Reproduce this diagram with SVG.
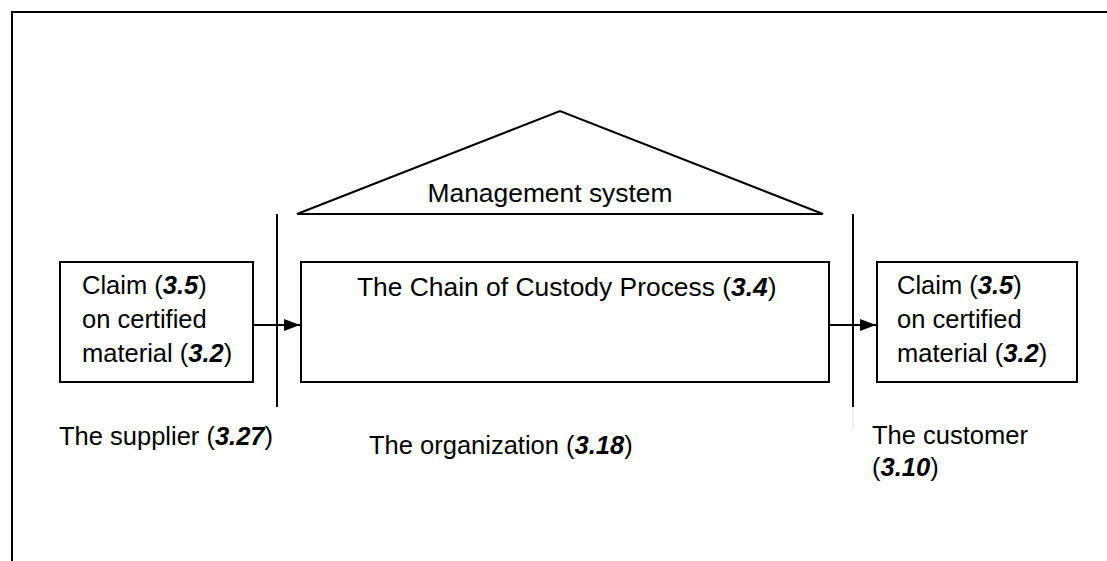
<svg xmlns="http://www.w3.org/2000/svg" width="1107" height="561" viewBox="0 0 1107 561">
<style>
.t{font-family:"Liberation Sans",Arial,sans-serif;font-size:25.5px;fill:#000}
.big{font-size:26.4px}
.b{font-weight:bold;font-style:italic}
.box{fill:#fff;stroke:#000;stroke-width:2}
.ln{stroke:#000;stroke-width:2;fill:none}
</style>
<defs>
<marker id="ah" markerWidth="16" markerHeight="12" refX="16" refY="6" orient="auto" markerUnits="userSpaceOnUse">
<path d="M0,0 L16,6 L0,12 Z" fill="#000"/>
</marker>
</defs>
<rect width="1107" height="561" fill="#fff"/>
<g id="frame">
<path class="ln" d="M12,561 L12,12 L1107,12"/>
</g>
<g id="management-system">
<path class="ln" d="M297,214 L560,111 L823,214 Z"/>
<text class="t big" x="550" y="202" text-anchor="middle">Management system</text>
</g>
<g id="supplier-claim">
<rect class="box" x="60" y="262" width="193" height="120"/>
<text class="t" x="82" y="294">Claim (<tspan class="b">3.5</tspan>)</text>
<text class="t" x="82" y="328">on certified</text>
<text class="t" x="82" y="362">material (<tspan class="b">3.2</tspan>)</text>
</g>
<g id="process">
<rect class="box" x="301" y="262" width="528" height="120"/>
<text class="t big" x="357" y="296">The Chain of Custody Process (<tspan class="b">3.4</tspan>)</text>
</g>
<g id="customer-claim">
<rect class="box" x="877" y="262" width="200" height="120"/>
<text class="t" x="897" y="294">Claim (<tspan class="b">3.5</tspan>)</text>
<text class="t" x="897" y="328">on certified</text>
<text class="t" x="897" y="362">material (<tspan class="b">3.2</tspan>)</text>
</g>
<g id="supplier-label">
<text class="t" x="59" y="445">The supplier (<tspan class="b">3.27</tspan>)</text>
</g>
<g id="organization-label">
<text class="t" x="369" y="454">The organization (<tspan class="b">3.18</tspan>)</text>
</g>
<g id="customer-label">
<text class="t" x="872" y="444">The customer</text>
<text class="t" x="872" y="476">(<tspan class="b">3.10</tspan>)</text>
</g>
<g id="boundaries">
<line class="ln" x1="277" y1="214" x2="277" y2="407"/>
<line class="ln" x1="853" y1="214" x2="853" y2="407"/>
<line x1="853" y1="407" x2="853" y2="430" stroke="#e4e4e4" stroke-width="1"/>
</g>
<g id="connectors">
<line class="ln" x1="253" y1="325" x2="300" y2="325" marker-end="url(#ah)"/>
<line class="ln" x1="829" y1="325" x2="876" y2="325" marker-end="url(#ah)"/>
</g>
</svg>
